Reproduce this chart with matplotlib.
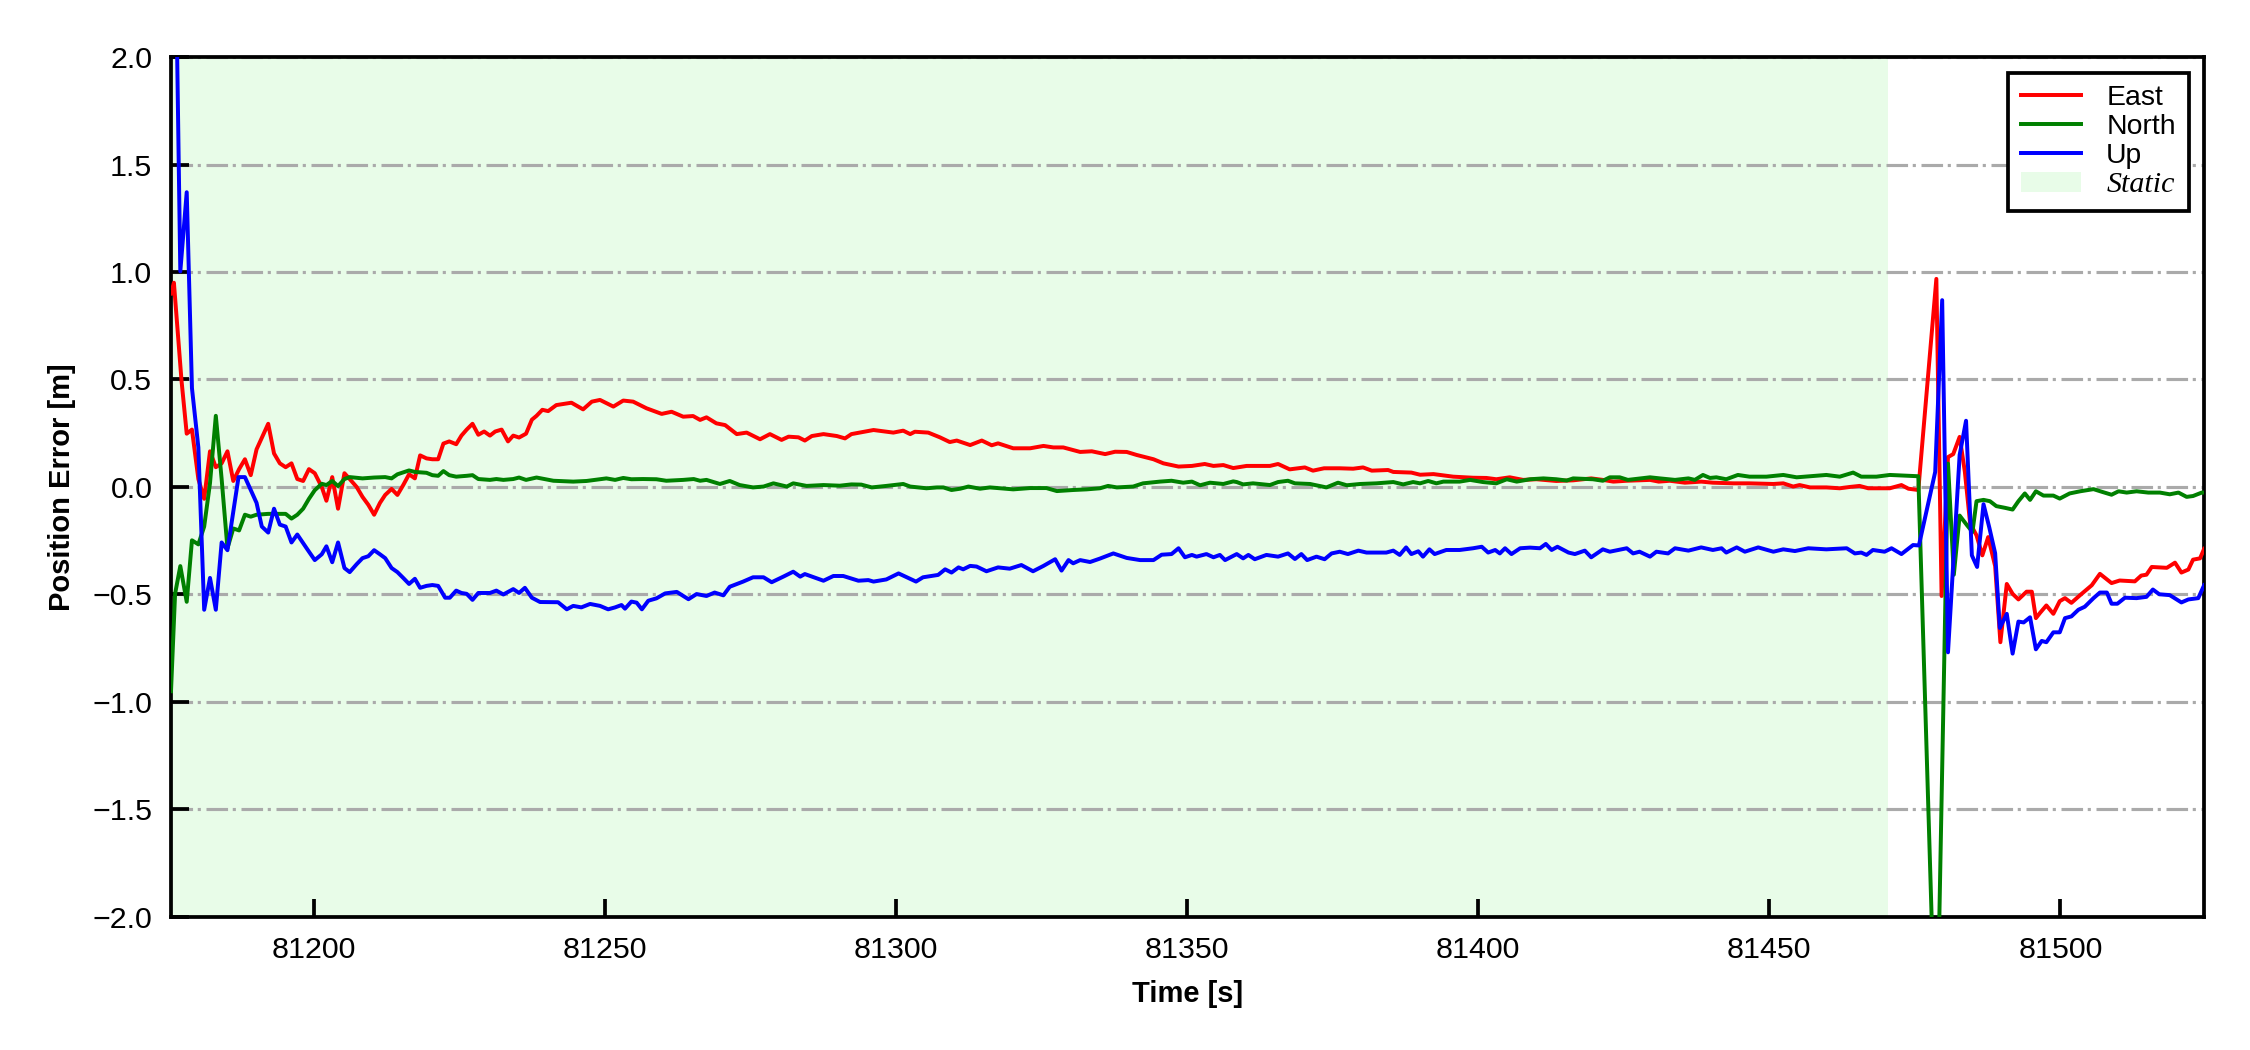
import matplotlib
matplotlib.use("Agg")
import matplotlib.pyplot as plt
from matplotlib.lines import Line2D
from matplotlib.patches import Patch

plt.rcParams['font.family'] = ['Liberation Sans', 'DejaVu Sans']

# ---------------- data (time [s], error [m]) ----------------
east = [
    (81175.4, 0.90), (81175.9, 0.95), (81177.2, 0.497), (81178.1, 0.248), (81179.0, 0.267),
    (81180.1, 0.037), (81181.1, -0.055), (81182.1, 0.166), (81183.1, 0.092), (81184.1, 0.11),
    (81185.1, 0.166), (81186.1, 0.028), (81187.1, 0.083), (81188.1, 0.129), (81189.1, 0.055),
    (81190.1, 0.175), (81192.1, 0.294), (81193.1, 0.156), (81194.1, 0.11), (81195.1, 0.092),
    (81196.1, 0.11), (81197.1, 0.037), (81198.1, 0.028), (81199.1, 0.083), (81200.1, 0.064),
    (81201.3, 0.0), (81202.1, -0.064), (81203.1, 0.046), (81204.1, -0.101), (81205.2, 0.064),
    (81206.1, 0.037), (81207.3, 0.0), (81208.3, -0.046), (81209.3, -0.083), (81210.3, -0.129),
    (81211.3, -0.074), (81212.2, -0.037), (81213.3, -0.009), (81214.3, -0.037), (81215.3, 0.009),
    (81216.3, 0.059), (81217.3, 0.04), (81218.2, 0.147), (81219.3, 0.133), (81220.3, 0.129),
    (81221.3, 0.129), (81222.2, 0.202), (81223.2, 0.212), (81224.4, 0.199), (81225.3, 0.239),
    (81226.2, 0.267), (81227.2, 0.294), (81228.2, 0.243), (81229.2, 0.258), (81230.2, 0.239),
    (81231.1, 0.258), (81232.2, 0.267), (81233.3, 0.212), (81234.2, 0.239), (81235.2, 0.23),
    (81236.4, 0.248), (81237.4, 0.313), (81238.2, 0.331), (81239.2, 0.359), (81240.2, 0.353),
    (81241.6, 0.381), (81244.2, 0.392), (81246.2, 0.361), (81247.7, 0.397), (81249.1, 0.405),
    (81251.4, 0.374), (81253.1, 0.402), (81254.8, 0.397), (81257.1, 0.366), (81259.7, 0.34),
    (81261.4, 0.35), (81263.4, 0.327), (81265.1, 0.33), (81266.3, 0.312), (81267.4, 0.324),
    (81269.1, 0.296), (81270.6, 0.288), (81272.6, 0.246), (81274.3, 0.253), (81276.6, 0.222),
    (81278.3, 0.246), (81280.3, 0.219), (81281.5, 0.234), (81283.2, 0.231), (81284.3, 0.216),
    (81285.5, 0.237), (81287.5, 0.246), (81289.8, 0.237), (81291.2, 0.226), (81292.3, 0.246),
    (81296.1, 0.265), (81299.5, 0.253), (81301.2, 0.262), (81302.4, 0.246), (81303.2, 0.257),
    (81305.5, 0.253), (81307.5, 0.231), (81309.2, 0.209), (81310.4, 0.216), (81312.7, 0.195),
    (81314.7, 0.216), (81316.4, 0.194), (81317.5, 0.203), (81320.1, 0.18), (81323.0, 0.18),
    (81325.3, 0.191), (81327.0, 0.184), (81328.7, 0.184), (81331.6, 0.163), (81333.6, 0.166),
    (81335.9, 0.153), (81337.6, 0.164), (81339.6, 0.163), (81341.3, 0.149), (81344.2, 0.129),
    (81345.9, 0.11), (81348.5, 0.095), (81350.8, 0.098), (81353.0, 0.107), (81354.5, 0.098),
    (81356.2, 0.102), (81357.9, 0.088), (81360.2, 0.098), (81364.2, 0.098), (81365.6, 0.107),
    (81367.6, 0.082), (81370.2, 0.091), (81371.6, 0.076), (81373.5, 0.087), (81376.2, 0.087),
    (81378.5, 0.085), (81380.2, 0.091), (81381.7, 0.076), (81384.5, 0.079), (81385.4, 0.07),
    (81388.5, 0.067), (81390.0, 0.057), (81392.3, 0.06), (81395.7, 0.048), (81399.1, 0.043),
    (81401.4, 0.042), (81403.1, 0.036), (81405.4, 0.045), (81407.7, 0.033), (81410.0, 0.036),
    (81413.4, 0.028), (81416.3, 0.031), (81419.4, 0.04), (81421.4, 0.033), (81423.2, 0.025),
    (81425.5, 0.029), (81429.5, 0.033), (81431.0, 0.025), (81432.9, 0.029), (81435.5, 0.02),
    (81438.3, 0.025), (81440.3, 0.02), (81443.8, 0.017), (81446.5, 0.017), (81450.7, 0.014),
    (81452.4, 0.017), (81454.1, 0.002), (81455.2, 0.009), (81457.0, -0.002), (81459.8, -0.002),
    (81462.1, -0.006), (81463.8, 0.0), (81465.5, 0.005), (81467.0, -0.006), (81470.7, -0.006),
    (81472.7, 0.009), (81473.9, -0.008), (81475.6, -0.014), (81478.7, 0.968), (81479.6, -0.507),
    (81480.7, 0.139), (81481.6, 0.153), (81482.7, 0.233), (81483.6, 0.07), (81484.5, -0.169),
    (81485.6, -0.225), (81486.6, -0.318), (81487.6, -0.233), (81488.8, -0.368), (81489.7, -0.722),
    (81490.8, -0.451), (81491.8, -0.497), (81492.8, -0.523), (81494.2, -0.487), (81495.1, -0.487),
    (81495.8, -0.61), (81496.5, -0.586), (81497.6, -0.551), (81498.8, -0.59), (81499.9, -0.531),
    (81500.8, -0.517), (81501.9, -0.539), (81503.4, -0.503), (81505.4, -0.457), (81506.8, -0.404),
    (81508.8, -0.447), (81510.2, -0.435), (81512.8, -0.439), (81513.9, -0.412), (81514.8, -0.408),
    (81515.7, -0.372), (81518.3, -0.376), (81519.7, -0.352), (81520.8, -0.398), (81522.0, -0.384),
    (81522.8, -0.338), (81524.0, -0.332), (81524.7, -0.288),
]

north = [
    (81175.4, -0.95), (81176.1, -0.497), (81177.0, -0.368), (81178.1, -0.534), (81179.0, -0.248),
    (81180.1, -0.267), (81181.1, -0.184), (81182.1, 0.018), (81183.1, 0.331), (81184.1, 0.037),
    (81185.1, -0.285), (81186.1, -0.193), (81187.1, -0.202), (81188.1, -0.129), (81189.1, -0.138),
    (81190.1, -0.129), (81192.1, -0.125), (81194.1, -0.125), (81195.1, -0.125), (81196.1, -0.147),
    (81197.1, -0.129), (81198.1, -0.101), (81199.1, -0.055), (81200.1, -0.015), (81201.3, 0.015),
    (81202.1, 0.009), (81203.1, 0.028), (81204.1, 0.004), (81205.2, 0.037), (81206.1, 0.046),
    (81208.3, 0.04), (81210.3, 0.044), (81212.2, 0.046), (81213.3, 0.04), (81214.3, 0.059),
    (81216.3, 0.077), (81217.3, 0.07), (81219.3, 0.066), (81220.3, 0.055), (81221.3, 0.052),
    (81222.2, 0.074), (81223.2, 0.055), (81224.4, 0.048), (81226.2, 0.052), (81227.2, 0.055),
    (81228.2, 0.037), (81230.2, 0.033), (81231.3, 0.037), (81232.5, 0.033), (81234.2, 0.037),
    (81235.2, 0.044), (81236.4, 0.033), (81238.2, 0.044), (81241.1, 0.029), (81244.5, 0.025),
    (81246.8, 0.028), (81250.2, 0.04), (81251.7, 0.033), (81253.1, 0.042), (81254.5, 0.036),
    (81256.5, 0.037), (81258.8, 0.036), (81260.5, 0.029), (81263.4, 0.033), (81265.2, 0.037),
    (81266.3, 0.029), (81267.4, 0.033), (81269.7, 0.014), (81271.4, 0.028), (81273.1, 0.009),
    (81275.4, -0.002), (81277.2, 0.002), (81278.9, 0.017), (81281.2, 0.002), (81282.3, 0.017),
    (81284.6, 0.005), (81287.5, 0.009), (81290.3, 0.006), (81292.3, 0.012), (81294.0, 0.011),
    (81295.8, -0.002), (81298.3, 0.005), (81301.2, 0.014), (81302.4, 0.002), (81305.2, -0.006),
    (81307.0, -0.002), (81308.1, -0.002), (81309.5, -0.014), (81311.0, -0.008), (81312.4, 0.002),
    (81314.4, -0.008), (81316.1, -0.002), (81320.1, -0.011), (81323.0, -0.005), (81325.8, -0.005),
    (81327.6, -0.019), (81330.4, -0.014), (81332.7, -0.011), (81335.0, -0.006), (81336.4, 0.005),
    (81337.9, -0.002), (81340.7, 0.002), (81342.4, 0.017), (81345.3, 0.025), (81347.3, 0.029),
    (81349.3, 0.02), (81350.8, 0.025), (81352.2, 0.008), (81353.9, 0.02), (81356.2, 0.014),
    (81357.9, 0.026), (81358.5, 0.023), (81359.6, 0.012), (81361.3, 0.017), (81364.2, 0.009),
    (81365.6, 0.023), (81367.3, 0.029), (81368.5, 0.017), (81371.1, 0.014), (81373.9, -0.002),
    (81375.9, 0.02), (81377.4, 0.008), (81379.7, 0.014), (81382.5, 0.017), (81385.4, 0.023),
    (81387.1, 0.012), (81388.8, 0.023), (81390.0, 0.017), (81391.4, 0.028), (81392.8, 0.017),
    (81394.0, 0.025), (81396.8, 0.025), (81398.6, 0.033), (81400.8, 0.023), (81403.1, 0.017),
    (81404.9, 0.036), (81406.6, 0.025), (81408.9, 0.036), (81411.2, 0.04), (81413.4, 0.036),
    (81415.2, 0.03), (81416.3, 0.04), (81419.7, 0.036), (81421.4, 0.029), (81422.6, 0.045),
    (81424.3, 0.045), (81425.7, 0.033), (81429.5, 0.045), (81431.2, 0.04), (81433.8, 0.033),
    (81436.1, 0.040), (81437.2, 0.033), (81438.6, 0.056), (81439.8, 0.042), (81440.9, 0.045),
    (81442.6, 0.036), (81444.6, 0.056), (81446.6, 0.048), (81449.5, 0.048), (81452.4, 0.056),
    (81454.7, 0.045), (81457.5, 0.051), (81459.8, 0.056), (81462.1, 0.048), (81464.4, 0.067),
    (81465.8, 0.048), (81468.4, 0.048), (81470.7, 0.056), (81473.0, 0.053), (81475.6, 0.05),
    (81478.7, -2.73), (81480.7, 0.109), (81481.7, -0.408), (81482.7, -0.133), (81484.0, -0.179),
    (81484.9, -0.209), (81485.6, -0.066), (81486.8, -0.06), (81487.9, -0.066), (81489.0, -0.089),
    (81490.5, -0.097), (81491.8, -0.105), (81492.8, -0.066), (81493.9, -0.03), (81494.8, -0.06),
    (81495.8, -0.02), (81497.1, -0.04), (81498.8, -0.04), (81499.9, -0.054), (81501.6, -0.03),
    (81503.4, -0.02), (81505.7, -0.01), (81507.1, -0.022), (81508.8, -0.036), (81510.0, -0.02),
    (81511.4, -0.026), (81513.1, -0.02), (81515.1, -0.026), (81517.1, -0.026), (81518.8, -0.034),
    (81520.3, -0.026), (81521.7, -0.046), (81522.8, -0.042), (81524.3, -0.026), (81524.7, -0.026),
]

up = [
    (81175.6, 3.6), (81177.0, 1.003), (81178.1, 1.371), (81179.0, 0.46), (81180.1, 0.184),
    (81181.1, -0.571), (81182.1, -0.423), (81183.1, -0.571), (81184.1, -0.258), (81185.1, -0.294),
    (81187.0, 0.046), (81188.1, 0.046), (81190.1, -0.074), (81191.0, -0.184), (81192.1, -0.212),
    (81193.1, -0.101), (81194.1, -0.175), (81195.1, -0.184), (81196.1, -0.258), (81197.1, -0.221),
    (81198.7, -0.285), (81200.1, -0.34), (81201.3, -0.313), (81202.1, -0.276), (81203.1, -0.35),
    (81204.1, -0.258), (81205.2, -0.377), (81206.1, -0.396), (81207.3, -0.359), (81208.3, -0.331),
    (81209.3, -0.322), (81210.3, -0.294), (81211.3, -0.313), (81212.2, -0.331), (81213.3, -0.377),
    (81214.3, -0.396), (81215.3, -0.423), (81216.3, -0.451), (81217.3, -0.427), (81218.2, -0.469),
    (81219.3, -0.46), (81220.3, -0.456), (81221.3, -0.46), (81222.5, -0.515), (81223.3, -0.515),
    (81224.4, -0.482), (81225.3, -0.493), (81226.2, -0.497), (81227.2, -0.525), (81228.2, -0.493),
    (81230.2, -0.493), (81231.3, -0.482), (81232.5, -0.50), (81234.2, -0.475), (81235.2, -0.493),
    (81236.2, -0.469), (81237.4, -0.515), (81238.8, -0.535), (81241.9, -0.536), (81243.4, -0.569),
    (81244.5, -0.553), (81245.9, -0.56), (81247.4, -0.544), (81249.1, -0.553), (81250.5, -0.569),
    (81251.7, -0.56), (81252.8, -0.549), (81253.4, -0.566), (81254.5, -0.533), (81255.4, -0.538),
    (81256.3, -0.569), (81257.4, -0.529), (81258.8, -0.518), (81260.3, -0.495), (81262.3, -0.488),
    (81264.3, -0.522), (81265.7, -0.498), (81267.4, -0.507), (81268.8, -0.491), (81270.3, -0.504),
    (81271.4, -0.464), (81273.7, -0.44), (81275.4, -0.42), (81277.2, -0.42), (81278.6, -0.443),
    (81280.6, -0.417), (81282.3, -0.394), (81283.5, -0.417), (81284.3, -0.405), (81287.5, -0.436),
    (81289.2, -0.414), (81290.9, -0.414), (81293.5, -0.436), (81295.2, -0.433), (81296.1, -0.44),
    (81298.3, -0.43), (81300.4, -0.402), (81301.8, -0.42), (81303.4, -0.44), (81304.6, -0.42),
    (81307.2, -0.409), (81308.4, -0.383), (81309.5, -0.398), (81310.7, -0.374), (81311.5, -0.383),
    (81312.7, -0.367), (81313.8, -0.37), (81315.5, -0.392), (81317.5, -0.374), (81319.5, -0.38),
    (81321.5, -0.363), (81323.5, -0.392), (81325.3, -0.367), (81327.3, -0.336), (81328.4, -0.389),
    (81329.6, -0.34), (81330.4, -0.355), (81331.6, -0.34), (81333.3, -0.349), (81335.0, -0.333),
    (81337.3, -0.309), (81339.6, -0.33), (81341.9, -0.34), (81344.2, -0.34), (81345.6, -0.315),
    (81347.3, -0.312), (81348.5, -0.285), (81349.6, -0.327), (81350.8, -0.316), (81351.6, -0.324),
    (81353.3, -0.312), (81354.5, -0.327), (81355.6, -0.316), (81356.5, -0.34), (81358.5, -0.312),
    (81359.6, -0.332), (81360.5, -0.316), (81361.6, -0.336), (81363.6, -0.316), (81365.6, -0.324),
    (81367.3, -0.309), (81368.5, -0.335), (81369.6, -0.312), (81370.6, -0.34), (81372.2, -0.324),
    (81373.6, -0.336), (81374.8, -0.309), (81376.2, -0.301), (81377.6, -0.312), (81379.4, -0.296),
    (81380.8, -0.305), (81384.2, -0.305), (81385.4, -0.296), (81386.5, -0.316), (81387.6, -0.281),
    (81388.5, -0.312), (81389.7, -0.299), (81390.5, -0.324), (81391.6, -0.29), (81392.5, -0.312),
    (81394.5, -0.293), (81396.8, -0.293), (81399.1, -0.285), (81400.6, -0.278), (81401.7, -0.305),
    (81402.9, -0.293), (81403.7, -0.309), (81404.6, -0.285), (81405.7, -0.312), (81407.2, -0.285),
    (81408.9, -0.282), (81410.6, -0.285), (81411.6, -0.265), (81412.6, -0.293), (81413.6, -0.278),
    (81415.5, -0.305), (81416.6, -0.312), (81418.3, -0.296), (81419.4, -0.327), (81421.4, -0.29),
    (81422.6, -0.301), (81425.5, -0.285), (81426.6, -0.309), (81427.7, -0.301), (81429.5, -0.324),
    (81430.6, -0.301), (81432.6, -0.309), (81433.8, -0.285), (81436.1, -0.296), (81438.3, -0.281),
    (81440.3, -0.293), (81441.8, -0.285), (81442.6, -0.305), (81444.4, -0.281), (81445.8, -0.301),
    (81448.1, -0.281), (81450.7, -0.301), (81452.4, -0.29), (81454.4, -0.298), (81456.7, -0.285),
    (81459.8, -0.29), (81463.3, -0.285), (81464.7, -0.309), (81465.8, -0.305), (81466.7, -0.316),
    (81467.8, -0.293), (81469.8, -0.301), (81471.0, -0.285), (81472.7, -0.312), (81474.7, -0.27),
    (81475.7, -0.272), (81478.5, 0.07), (81479.7, 0.869), (81480.7, -0.769), (81482.7, 0.149),
    (81483.8, 0.308), (81484.8, -0.318), (81485.7, -0.372), (81486.8, -0.08), (81487.8, -0.189),
    (81488.8, -0.308), (81489.6, -0.656), (81490.8, -0.59), (81491.8, -0.775), (81492.8, -0.626),
    (81493.7, -0.63), (81494.8, -0.606), (81495.8, -0.755), (81496.8, -0.716), (81497.6, -0.722),
    (81498.8, -0.676), (81499.9, -0.676), (81500.8, -0.61), (81501.9, -0.602), (81503.1, -0.571),
    (81504.2, -0.557), (81505.7, -0.517), (81506.8, -0.491), (81508.0, -0.491), (81508.8, -0.543),
    (81509.8, -0.543), (81511.1, -0.515), (81513.1, -0.517), (81514.8, -0.511), (81515.9, -0.477),
    (81517.0, -0.499), (81518.8, -0.503), (81520.8, -0.537), (81522.0, -0.523), (81523.7, -0.517),
    (81524.7, -0.457),
]

static_period = (81175.4, 81470.4)
x_limits = (81175.4, 81524.7)
y_ticks = [-2.0, -1.5, -1.0, -0.5, 0.0, 0.5, 1.0, 1.5, 2.0]
x_ticks = [81200, 81250, 81300, 81350, 81400, 81450, 81500]
series = [("East", east, "#ff0000"), ("North", north, "#008000"), ("Up", up, "#0000ff")]
static_color = "#e8fce8"

# ---------------- figure ----------------
fig = plt.figure(figsize=(7.5, 3.5), dpi=300)
ax = fig.add_axes([0.076, 0.1267, 0.9036, 0.819])

ax.axvspan(static_period[0], static_period[1], color=static_color, lw=0, zorder=0)

for name, pts, col in series:
    ax.plot([p[0] for p in pts], [p[1] for p in pts], color=col, lw=0.95, zorder=3, label=name)

ax.set_xlim(*x_limits)
ax.set_ylim(-2.0, 2.0)
ax.set_yticks(y_ticks)
ax.set_xticks(x_ticks)
ax.ticklabel_format(axis='x', useOffset=False, style='plain')

ax.yaxis.grid(True, color='#aaaaaa', lw=0.75, linestyle=(0, (6.9, 1.5, 1.0, 1.8)), zorder=1)
ax.set_axisbelow(True)

ax.tick_params(direction='in', length=4.3, width=0.9, labelsize=7.3, pad=4.5)
for s in ax.spines.values():
    s.set_linewidth(0.9)

ax.set_xlabel('Time [s]', fontsize=7, fontweight='bold')
ax.set_ylabel('Position Error [m]', fontsize=7, fontweight='bold')

handles = [Line2D([], [], color=c, lw=0.95) for _, _, c in series]
handles.append(Patch(facecolor=static_color, edgecolor='none'))
labels = [n for n, _, _ in series] + ['Static']
leg = ax.legend(handles, labels, loc='upper right', fontsize=6.8, frameon=True, fancybox=False,
                edgecolor='black', framealpha=1, borderaxespad=0.55, labelspacing=0.1,
                handlelength=2.1, handletextpad=0.9, borderpad=0.45)
leg.get_frame().set_linewidth(0.9)
t = leg.get_texts()[3]
t.set_fontfamily(['Liberation Serif', 'DejaVu Serif'])
t.set_fontstyle('italic')
t.set_fontsize(7.2)

fig.savefig('out.png', dpi=300)
